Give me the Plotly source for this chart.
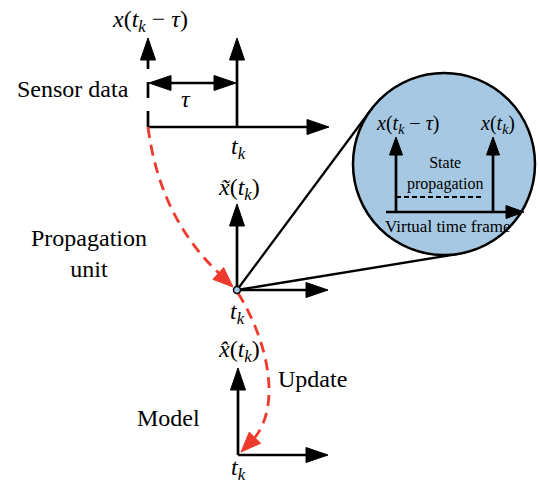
import numpy as np
import plotly.graph_objects as go

# --- diagram data (pixel coordinates, y grows downwards) ---
sensor_origin = (148, 127)
sensor_tk_x = 237
axis_top_y = [38, 38]           # tips of the two sensor arrows
sensor_axis_end = 329
tau_y = 83

prop_origin = (237, 290)
prop_top = 204
prop_right = 328

model_origin = (238, 455)
model_top = 368
model_right = 328

zoom_center = (444, 164)
zoom_radius = 91
zoom_left_x = 396
zoom_right_x = 493
zoom_axis_y = 212
zoom_axis = [386, 524]
zoom_top = 137
zoom_dash_y = 197

# red dashed paths: start, control points, end
curve1 = [(148, 127), (160, 220), (233, 287)]
curve2 = [(238, 293), (270, 345), (282, 410), (241, 452)]

side_labels = ["Sensor data", "Propagation<br>unit", "Model", "Update"]

BLACK = "#000000"
RED = "#EE3A2C"
BLUE = "#A6C8E2"
FONT = "Liberation Serif"

shapes = []
annotations = []


def line(x0, y0, x1, y1, color=BLACK, width=2.7, dash=None):
    shapes.append(dict(type="line", x0=x0, y0=y0, x1=x1, y1=y1, xref="x", yref="y",
                       line=dict(color=color, width=width, dash=dash)))


def head(tip, direction, length=22, half=7.5, color=BLACK):
    u = np.array(direction, dtype=float)
    u = u / np.linalg.norm(u)
    n = np.array([-u[1], u[0]])
    t = np.array(tip, dtype=float)
    b = t - length * u
    p1 = b + half * n
    p2 = b - half * n
    path = f"M {t[0]},{t[1]} L {p1[0]},{p1[1]} L {p2[0]},{p2[1]} Z"
    shapes.append(dict(type="path", path=path, xref="x", yref="y",
                       fillcolor=color, line=dict(color=color, width=1)))


def arrow(x0, y0, x1, y1, length=22, half=7.5, width=2.7):
    u = np.array([x1 - x0, y1 - y0], dtype=float)
    u = u / np.linalg.norm(u)
    line(x0, y0, x1 - u[0] * (length - 2), y1 - u[1] * (length - 2), width=width)
    head((x1, y1), u, length, half)


def text(x, y, s, size=24, align="center", xanchor="center"):
    annotations.append(dict(x=x, y=y, xref="x", yref="y", text=s, showarrow=False,
                            font=dict(family=FONT, size=size, color=BLACK),
                            align=align, xanchor=xanchor, yanchor="middle"))


# --- zoom circle and tangent lines ---
c = np.array(zoom_center, dtype=float)
p = np.array(prop_origin, dtype=float)
d = c - p
dist = np.linalg.norm(d)
ang = np.arctan2(d[1], d[0])
half_ang = np.arcsin(zoom_radius / dist)
tlen = np.sqrt(dist ** 2 - zoom_radius ** 2)
for s in (-1, 1):
    a = ang + s * half_ang
    line(p[0], p[1], p[0] + tlen * np.cos(a), p[1] + tlen * np.sin(a), width=2.3)

shapes.append(dict(type="circle", xref="x", yref="y",
                   x0=c[0] - zoom_radius, x1=c[0] + zoom_radius,
                   y0=c[1] - zoom_radius, y1=c[1] + zoom_radius,
                   fillcolor=BLUE, line=dict(color=BLACK, width=2.5)))

# inside the circle
arrow(zoom_axis[0], zoom_axis_y, zoom_axis[1], zoom_axis_y, length=18, half=6.5)
arrow(zoom_left_x, zoom_axis_y, zoom_left_x, zoom_top, length=18, half=6.5)
arrow(zoom_right_x, zoom_axis_y, zoom_right_x, zoom_top, length=18, half=6.5)
line(zoom_left_x, zoom_dash_y, zoom_right_x - 10, zoom_dash_y, width=2, dash="5px,3px")
text(407, 124, "<i>x</i>(<i>t</i><sub><i>k</i></sub> − <i>τ</i>)", size=20)
text(497, 124, "<i>x</i>(<i>t</i><sub><i>k</i></sub>)", size=20)
text(445, 173, "State<br>propagation", size=16)
text(447, 226, "Virtual time frame", size=17)

# --- sensor data group ---
sx, sy = sensor_origin
arrow(sx, sy, sensor_axis_end, sy)
arrow(sensor_tk_x, sy, sensor_tk_x, axis_top_y[1])
line(sx, sy, sx, axis_top_y[0] + 18, dash="16px,13px")
head((sx, axis_top_y[0]), (0, -1))
# tau double arrow
line(sx + 18, tau_y, sensor_tk_x - 18, tau_y)
head((sx + 1, tau_y), (-1, 0))
head((sensor_tk_x - 1, tau_y), (1, 0))
text(186, 99, "<i>τ</i>")
text(sensor_tk_x + 1, 148, "<i>t</i><sub><i>k</i></sub>")
text(sx + 2, 21, "<i>x</i>(<i>t</i><sub><i>k</i></sub> − <i>τ</i>)")
text(73, 89, side_labels[0])

# --- propagation group ---
px, py = prop_origin
arrow(px, py, prop_right, py)
arrow(px, py, px, prop_top)
text(px + 2, 189, "<i>x̃</i>(<i>t</i><sub><i>k</i></sub>)")
text(px, 313, "<i>t</i><sub><i>k</i></sub>")
text(89, 253, side_labels[1])

# --- model group ---
mx, my = model_origin
arrow(mx, my, model_right, my)
arrow(mx, my, mx, model_top)
text(mx + 1, 351, "<i>x̂</i>(<i>t</i><sub><i>k</i></sub>)")
text(mx, 469, "<i>t</i><sub><i>k</i></sub>")
text(168, 418, side_labels[2])
text(312, 379, side_labels[3])

# --- red dashed update paths ---
a0, q, a1 = curve1
shapes.append(dict(type="path", xref="x", yref="y",
                   path=f"M {a0[0]},{a0[1]} Q {q[0]},{q[1]} {a1[0] - 10},{a1[1] - 10}",
                   line=dict(color=RED, width=2.8, dash="11px,7px")))
head(a1, (a1[0] - q[0], a1[1] - q[1]), length=20, half=8, color=RED)

b0, b1, b2, b3 = curve2
shapes.append(dict(type="path", xref="x", yref="y",
                   path=f"M {b0[0]},{b0[1]} C {b1[0]},{b1[1]} {b2[0]},{b2[1]} {b3[0] + 10},{b3[1] - 10}",
                   line=dict(color=RED, width=2.8, dash="11px,7px")))
head(b3, (b3[0] - b2[0], b3[1] - b2[1]), length=20, half=8, color=RED)

# small node at the propagation origin
shapes.append(dict(type="circle", xref="x", yref="y", x0=px - 3.5, x1=px + 3.5,
                   y0=py - 3.5, y1=py + 3.5, fillcolor=BLUE, line=dict(color=BLACK, width=1.6)))

fig = go.Figure()
fig.update_layout(width=538, height=482, margin=dict(l=0, r=0, t=0, b=0),
                  paper_bgcolor="white", plot_bgcolor="white",
                  shapes=shapes, annotations=annotations, showlegend=False)
fig.update_xaxes(range=[0, 538], visible=False, fixedrange=True)
fig.update_yaxes(range=[482, 0], visible=False, fixedrange=True)

# drop the default page margin so the figure fills the window exactly
fig.write_html("out.html", config={"displayModeBar": False},
               post_script="document.body.style.margin='0';")
